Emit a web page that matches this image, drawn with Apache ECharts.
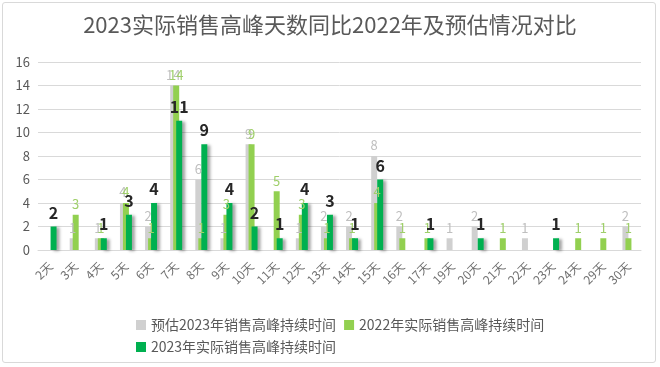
<!DOCTYPE html>
<html><head><meta charset="utf-8">
<script src="https://cdn.jsdelivr.net/npm/echarts@6/dist/echarts.min.js"></script>
<style>
html,body{margin:0;padding:0;background:#fff;}
#frame{position:absolute;left:2px;top:2px;width:654px;height:361px;border:1px solid #d9d9d9;border-radius:3px;box-sizing:border-box;}
#c{position:absolute;left:0;top:0;width:660px;height:367px;}
</style></head>
<body>
<div id="frame"></div>
<div id="c"></div>
<script>
const categories = ['2天','3天','4天','5天','6天','7天','8天','9天','10天','11天','12天','13天','14天','15天','16天','17天','19天','20天','21天','22天','23天','24天','29天','30天'];
const estimate2023 = [0,1,1,4,2,14,6,1,9,0,1,2,2,8,2,0,1,2,0,1,0,0,0,2];
const actual2022   = [0,3,1,4,1,14,1,3,9,5,3,1,1,4,1,1,0,0,1,0,0,1,1,1];
const actual2023   = [2,0,1,3,4,11,9,4,2,1,4,3,1,6,0,1,0,1,0,0,1,0,0,0];
const yTicks = [0,2,4,6,8,10,12,14,16];
const names = ['预估2023年销售高峰持续时间','2022年实际销售高峰持续时间','2023年实际销售高峰持续时间'];

const font = '"Noto Sans CJK SC","Noto Sans",sans-serif';
const fmt = p => (p.value ? String(p.value) : '');
const chart = echarts.init(document.getElementById('c'));
chart.setOption({
  animation:false,
  textStyle:{fontFamily:font},
  title:{text:'2023实际销售高峰天数同比2022年及预估情况对比',left:'center',top:9,
    textStyle:{fontSize:22,fontWeight:'normal',color:'#595959',fontFamily:font}},
  legend:[
    {data:[names[0],names[1]],left:131,top:313,itemWidth:10,itemHeight:10,itemGap:8,icon:'rect',
     textStyle:{fontSize:14,color:'#595959',fontFamily:font}},
    {data:[names[2]],left:131,top:335,itemWidth:10,itemHeight:10,icon:'rect',
     textStyle:{fontSize:14,color:'#595959',fontFamily:font}}
  ],
  grid:{left:38,right:19,top:62,bottom:117,containLabel:false},
  xAxis:{type:'category',data:categories,
    axisLine:{lineStyle:{color:'#d9d9d9'}},axisTick:{show:false},
    axisLabel:{rotate:45,color:'#6f6f6f',fontSize:12,margin:14,interval:0}},
  yAxis:{type:'value',min:yTicks[0],max:yTicks[yTicks.length-1],interval:2,
    axisLine:{show:false},axisTick:{show:false},
    axisLabel:{color:'#595959',fontSize:13,margin:8},
    splitLine:{lineStyle:{color:'#d9d9d9'}}},
  series:[
    {name:names[0],type:'bar',data:estimate2023,barWidth:6,barGap:'-50%',
     itemStyle:{color:'#d0d0d0'},
     label:{show:true,position:'top',formatter:fmt,color:'#bfbfbf',fontSize:13,distance:4}},
    {name:names[1],type:'bar',data:actual2022,barWidth:6,barGap:'-50%',
     itemStyle:{color:'#92d050'},
     label:{show:true,position:'top',formatter:fmt,color:'#9fcf6a',fontSize:13,distance:4}},
    {name:names[2],type:'bar',data:actual2023,barWidth:6,barGap:'-50%',
     itemStyle:{color:'#00b050',shadowColor:'rgba(0,0,0,0.35)',shadowOffsetX:3,shadowOffsetY:1,shadowBlur:3},
     label:{show:true,position:'top',formatter:fmt,color:'#262626',fontSize:16,fontWeight:'bold',distance:6}}
  ]
});
</script>
</body></html>
